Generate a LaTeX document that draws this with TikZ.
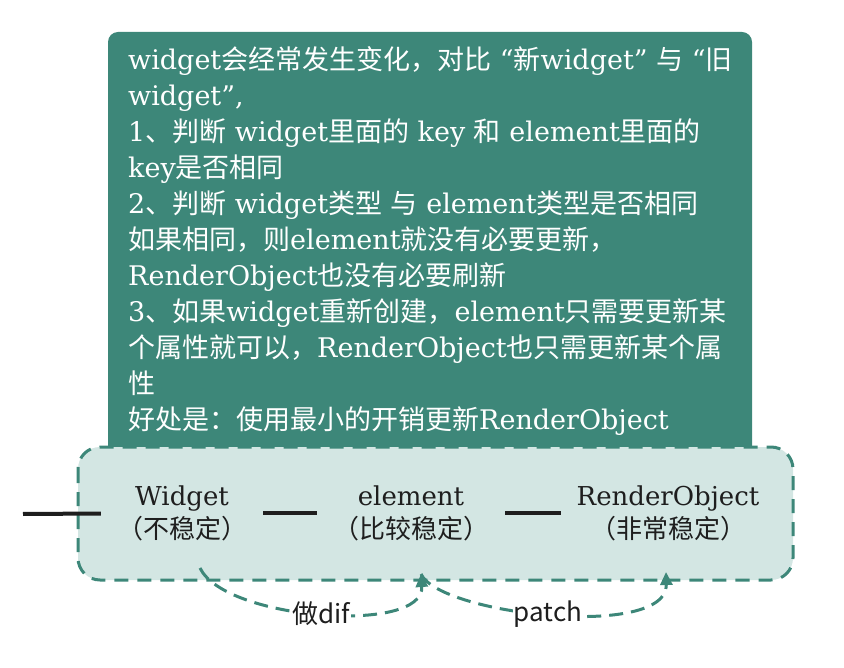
\documentclass[tikz,border=0pt]{standalone}
\usepackage{fontspec}
\setmainfont{DejaVu Serif}
\newfontfamily\cjk{Noto Sans CJK SC}
\usetikzlibrary{arrows.meta}
\tikzset{>=Stealth}
\definecolor{notegreen}{RGB}{61,135,121}
\definecolor{stagefill}{RGB}{211,230,227}
\definecolor{inkgray}{RGB}{30,30,30}
\newcommand{\zh}[1]{{\cjk #1}}
\tikzset{
  notetext/.style={text=white, align=left, inner sep=0pt, font=\fontsize{27}{36}\selectfont},
  stagebox/.style={draw=notegreen, fill=stagefill, line width=3pt, dash pattern=on 14pt off 9pt, rounded corners=22pt},
  stage/.style={text=inkgray, align=center, inner sep=16pt, font=\fontsize{26}{33}\selectfont},
  link/.style={draw=inkgray, line width=4pt},
  flow/.style={draw=notegreen, line width=3pt, dash pattern=on 14pt off 8pt, -{Triangle[length=13pt,width=12pt]}},
  flowlabel/.style={fill=white, inner sep=1pt, text=inkgray, font=\cjk\fontsize{26}{30}\selectfont}
}

\begin{document}
\begin{tikzpicture}[x=1pt,y=-1pt]
	\useasboundingbox (0,0) rectangle (844,668);
	% note on top
	\fill[notegreen] (108,452) [rounded corners=10pt] -- (108,32) -- (752,32) [sharp corners] -- (752,452) -- cycle;
	\node[notetext, anchor=north west] (note) at (128,46) {%
		widget\zh{会经常发生变化，对比} “\zh{新}widget” \zh{与} “\zh{旧}\\
		widget”,\\
		1\zh{、判断} widget\zh{里面的} key \zh{和} element\zh{里面的}\\
		key\zh{是否相同}\\
		2\zh{、判断} widget\zh{类型} \zh{与} element\zh{类型是否相同}\\
		\zh{如果相同，则}element\zh{就没有必要更新，}\\
		RenderObject\zh{也没有必要刷新}\\
		3\zh{、如果}widget\zh{重新创建，}element\zh{只需要更新某}\\
		\zh{个属性就可以，}RenderObject\zh{也只需更新某个属}\\
		\zh{性}\\
		\zh{好处是：使用最小的开销更新}RenderObject};
	% the three trees
	\draw[stagebox] (78,447) rectangle (793,580);
	\node[stage] (widget) at (182,513) {Widget\\\zh{（不稳定）}};
	\node[stage] (element) at (411,513) {element\\\zh{（比较稳定）}};
	\node[stage] (render) at (668,513) {RenderObject\\\zh{（非常稳定）}};
	\coordinate (in) at (23,514);
	\draw[link] (in) -- (widget);
	\draw[link] (widget) -- (element);
	\draw[link] (element) -- (render);
	% diff and patch
	\coordinate (wfoot) at (200,568);
	\coordinate (efoot) at (421,574);
	\coordinate (rfoot) at (666,572);
	\draw[flow] (wfoot) .. controls (225,620) and (425,635) .. node[flowlabel, pos=0.5] {做dif} (efoot);
	\draw[flow] (efoot) .. controls (440,615) and (668,640) .. node[flowlabel, pos=0.49] {patch} (rfoot);
\end{tikzpicture}
\end{document}
